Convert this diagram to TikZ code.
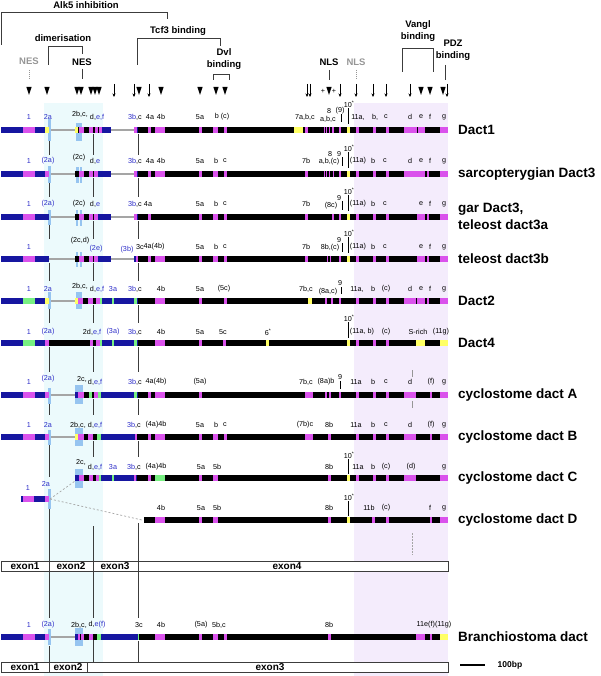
\documentclass[tikz,border=0pt]{standalone}
\usepackage{fontspec}
\setmainfont{Liberation Sans}
\usepackage{xcolor}
\usetikzlibrary{arrows.meta}

\definecolor{exblue}{RGB}{22,22,160}
\definecolor{exmag}{RGB}{218,82,236}
\definecolor{exyel}{RGB}{255,255,100}
\definecolor{exgrn}{RGB}{120,240,130}
\definecolor{hiblue}{RGB}{150,196,240}
\definecolor{cyanbg}{RGB}{236,250,252}
\definecolor{lavbg}{RGB}{244,236,252}
\definecolor{labblue}{RGB}{45,45,200}
\definecolor{intron}{RGB}{165,165,165}
\definecolor{guide}{RGB}{60,60,60}
\definecolor{faded}{RGB}{150,150,150}

\tikzset{
  lbl/.style={inner sep=0pt, font=\fontsize{7.2}{8}\selectfont},
  head/.style={inner sep=0pt, align=center, font=\fontsize{9.5}{12}\selectfont\bfseries},
  rowname/.style={inner sep=0pt, anchor=west, font=\fontsize{13.5}{15}\selectfont\bfseries},
  exonlbl/.style={inner sep=0pt, font=\fontsize{10}{11}\selectfont\bfseries},
  guideline/.style={guide, line width=0.6pt},
  bracket/.style={guide, line width=0.8pt},
  tick/.style={black, line width=0.5pt},
  exbox/.style={draw=guide, line width=0.7pt},
}

\newcommand{\bl}[1]{\textcolor{labblue}{#1}}
\newcommand{\exrow}[2]{\foreach \xa/\xb/\fc in {#2} {\fill[\fc] (\xa,#1-3.3) rectangle (\xb,#1+3.3);}}
\newcommand{\gapline}[3]{\fill[intron] (#2,#1-1) rectangle (#3,#1+1);}
\newcommand{\hilite}[4]{\fill[hiblue] (#1,#2) rectangle (#3,#4);}
\newcommand{\labrow}[3]{\foreach \x/\txt [count=\k] in {#3} {\node[lbl] (#1-\k) at (\x,#2) {\txt};}}

\begin{document}
\begin{tikzpicture}[x=1pt,y=-1pt]
\useasboundingbox (0,0) rectangle (600,676);

% shaded exon regions
\fill[cyanbg] (44,103) rectangle (103,676);
\fill[lavbg] (354,103) rectangle (448,676);

% exon boundary guides
\foreach \ya/\yb in {134/155, 178/197, 221/239, 263/281, 305/323, 347/372, 399/415, 441/457}
  \foreach \gx in {49,93,138} \draw[guideline] (\gx,\ya) -- (\gx,\yb);
\foreach \ya/\yb in {441/477, 508/561, 571/618, 646/662} \draw[guideline] (49,\ya) -- (49,\yb);
\foreach \ya/\yb in {526/561, 571/618, 640/662} \draw[guideline] (93,\ya) -- (93,\yb);
\foreach \ya/\yb in {523/561, 571/618, 641/662} \draw[guideline] (138,\ya) -- (138,\yb);

% functional domains
\node[head] (alk) at (86,5) {Alk5 inhibition};
\draw[bracket] (1,45) |- (167,12) -- (167,19);
\node[head] (tcf) at (178,31) {Tcf3 binding};
\draw[bracket] (137,65) |- (220,38) -- (220,46);
\node[head] (dimer) at (63,38) {dimerisation};
\draw[bracket] (48,65) |- (82,46) -- (82,54);
\node[head] (nes) at (82,62) {NES};
\draw[bracket] (nes.south) ++(0,3) -- (82,79);
\node[head, text=faded] (nesg) at (29,61) {NES};
\draw[faded, line width=0.8pt, dash pattern=on 1pt off 1pt] (29,70) -- (29,80);
\node[head] (dvl) at (224,59) {Dvl\\binding};
\draw[bracket] (213,80) |- (229,74) -- (229,80);
\node[head] (nls) at (329,62) {NLS};
\draw[bracket] (329,70) -- (329,80);
\node[head, text=faded] (nlsg) at (356,62) {NLS};
\draw[faded, line width=0.8pt, dash pattern=on 1pt off 1pt] (356,70) -- (356,80);
\node[head] (vangl) at (418,31) {Vangl\\binding};
\draw[bracket] (402,72) |- (433,48) -- (433,72);
\node[head] (pdz) at (453,50) {PDZ\\binding};
\draw[bracket] (445,65) -- (445,80);

% intron positions
\foreach \mx in {29,47,77,81,91,95,99,139,161,200,216,225,329,421,430,443}
  \fill (\mx-2.6,87) -- (\mx+2.6,87) -- (\mx,95) -- cycle;
\foreach \mx in {114,134,149,307,310,340,356,373,386,410,447}
  \draw[-{Stealth[length=3.5pt,width=3pt]}, line width=0.5pt] (\mx,84) -- (\mx,97);
\node[lbl] (plusa) at (323,91) {+};
\node[lbl] (plusb) at (334,91) {+};

% Dact1
\gapline{130}{49}{75} \gapline{130}{111}{134}
\hilite{47.5}{119}{50.5}{141} \hilite{75.5}{123}{82}{141}
\exrow{130}{1/23/exblue, 23/35/exmag, 35/45/exblue, 45/49/exyel, 75/78/exyel, 78/79/black, 79/84/exmag, 84/89/black, 89/93/exmag, 93/94.5/black, 94.5/102/exmag, 98/99/black, 102/111/exblue, 134/448/black, 134/136.5/exmag, 136.5/137.5/exblue, 148/151/exmag, 155/165/exmag, 199/201.5/exmag, 213/218/exmag, 224/227/exmag, 294/303/exyel, 304.5/308/exmag, 323.5/324.5/exmag, 326/327/exmag, 328.5/329.5/exmag, 332/334/exmag, 339/341/exmag, 347/350/exyel, 356/359/exmag, 373/375.5/exmag, 386/388.5/exmag, 404/425/exmag, 416.5/417.5/black, 440/448/exmag}
\labrow{r1}{117}{29/\bl{1}, 48/\bl{2a}, 97/{d,\bl{e,f}}, 135/{\bl{3b},c}, 150/4a, 161/4b, 200/5a, 222/{b (c)}, 305/{7a,b,c}, 358/{11a,}, 375/{b,}, 386/c, 410/d, 421/e, 430/f, 444/g}
\node[lbl] (r1-2bc) at (80,114) {2b,c,};
\labrow{r1u}{111}{329/8, 340/(9)}
\node[lbl] (r1-abc) at (328,119) {a,b,c};
\draw[tick] (341,114) -- (341,122);
\node[lbl] (r1-ten) at (349,104) {10\textsuperscript{*}};
\draw[tick] (348,108) -- (348,124);
\node[rowname] (n1) at (458,130) {Dact1};

% sarcopterygian Dact3
\gapline{174}{49}{75} \gapline{174}{111}{134}
\hilite{47.5}{166}{50.5}{183} \hilite{75.5}{167}{78.5}{183} \hilite{79.5}{167}{82}{183}
\exrow{174}{1/23/exblue, 23/35/exmag, 35/45/exblue, 45/49/exmag, 75/79/black, 79/84/exmag, 84/89/black, 89/93/exmag, 93/94/black, 94/98/exmag, 98/111/exblue, 134/448/black, 134/136.5/exmag, 136.5/137.5/exblue, 148/151/exmag, 155/165/exmag, 199/201.5/exmag, 213/218/exmag, 224/227/exmag, 305/307.5/exmag, 323.5/324.5/exmag, 326/327/exmag, 328.5/329.5/exmag, 333/334/exmag, 339/341/exmag, 347/350/exyel, 356/359/exmag, 373/375.5/exmag, 386/388.5/exmag, 404/425/exmag, 427/428.5/exmag, 440/448/exmag}
\labrow{r2}{161}{29/\bl{1}, 48/\bl{(2a)}, 95/{d,\bl{e}}, 135/{\bl{3b},c}, 150/4a, 161/4b, 200/5a, 216/b, 225/c, 306/7b, 358/(11a), 373/b, 385/c, 410/d, 421/e, 430/f, 444/g}
\node[lbl] (r2-2c) at (79,158) {(2c)};
\labrow{r2u}{154}{330/8, 339/9}
\node[lbl] (r2-abc) at (329,162) {a,b,(c)};
\draw[tick] (342,157) -- (342,166);
\node[lbl] (r2-ten) at (349,148) {10\textsuperscript{*}};
\draw[tick] (348,152) -- (348,168);
\node[rowname] (n2) at (458,174) {sarcopterygian Dact3};

% gar Dact3, teleost dact3a
\gapline{217}{49}{75} \gapline{217}{111}{134}
\hilite{47.5}{210}{50.5}{225} \hilite{75.5}{210}{78}{226} \hilite{80}{210}{82}{226}
\exrow{217}{1/23/exblue, 23/35/exmag, 35/49/exblue, 75/79/black, 79/84/exmag, 84/89/black, 89/93/exmag, 93/94/black, 94/98/exmag, 98/111/exblue, 134/448/black, 134/136.5/exmag, 136.5/137.5/exblue, 148/151/exmag, 199/201.5/exmag, 213/218/exmag, 224/227/exmag, 305/307.5/exmag, 332/334/exmag, 339/341/exmag, 347/350/exyel, 356/359/exmag, 373/375.5/exmag, 386/388.5/exmag, 417/425/exmag, 427/428.5/exmag, 440/448/exmag}
\labrow{r3}{204}{29/\bl{1}, 48/\bl{(2a)}, 79/(2c), 95/{d,\bl{e}}, 135/{\bl{3b},c}, 148/4a, 200/5a, 216/b, 225/c, 306/7b, 358/(11a), 373/b, 385/c, 421/e, 430/f, 444/g}
\node[lbl] (r3-nine) at (339,198) {9};
\node[lbl] (r3-8c) at (331,206) {(8c)};
\draw[tick] (342,201) -- (342,210);
\node[lbl] (r3-ten) at (349,191) {10\textsuperscript{*}};
\draw[tick] (348,195) -- (348,211);
\node[rowname] (n3a) at (458,209) {gar Dact3,};
\node[rowname] (n3b) at (458,225) {teleost dact3a};

% teleost dact3b
\gapline{259}{49}{75} \gapline{259}{111}{134}
\hilite{76}{252}{78}{267} \hilite{80}{252}{82}{267}
\exrow{259}{1/23/exblue, 23/35/exmag, 35/49/exblue, 75/79/black, 79/84/exmag, 84/89/black, 89/93/exmag, 93/94/black, 94/98/exmag, 98/111/exblue, 134/448/black, 134/136/exblue, 136/137.5/exmag, 148/151/exmag, 155/165/exmag, 199/201.5/exmag, 213/218/exmag, 224/227/exmag, 305/307.5/exmag, 327/328/exmag, 329.5/330.5/exmag, 339/341/exmag, 347/350/exyel, 356/359/exmag, 373/375.5/exmag, 386/388.5/exmag, 417/425/exmag, 427/428.5/exmag, 440/448/exmag}
\labrow{r4}{247}{29/\bl{1}, 140/3c, 154/4a(4b), 200/5a, 216/b, 225/c, 306/7b, 358/(11a), 373/b, 385/c, 421/e, 430/f, 444/g}
\node[lbl] (r4-2cd) at (80,241) {(2c,d)};
\node[lbl] (r4-2e) at (96,249) {\bl{(2e)}};
\node[lbl] (r4-3b) at (127,250) {\bl{(3b)}};
\node[lbl] (r4-nine) at (339,240) {9};
\node[lbl] (r4-8bc) at (330,248) {8b,(c)};
\draw[tick] (342,243) -- (342,252);
\node[lbl] (r4-ten) at (349,233) {10\textsuperscript{*}};
\draw[tick] (348,237) -- (348,253);
\node[rowname] (n4) at (458,259) {teleost dact3b};

% Dact2
\gapline{301}{49}{75}
\hilite{47.5}{292}{50.5}{309} \hilite{75.5}{292}{82}{309}
\exrow{301}{1/23/exblue, 23/35/exgrn, 35/45/exblue, 45/49/exyel, 75/78/exyel, 78/83/exmag, 83/88/black, 88/93/exmag, 93/96/black, 96/100/exmag, 100/101.5/exgrn, 101.5/112/exblue, 112/113.5/exgrn, 113.5/133.5/exblue, 133.5/136.5/exgrn, 136.5/138/exblue, 138/448/black, 155/165/exmag, 199/201.5/exmag, 224/227/exmag, 308/312/exyel, 325/327/exmag, 331/333/exmag, 339/341/exmag, 356/359/exmag, 373/375.5/exmag, 386/388.5/exmag, 404/416/exmag, 417/425/exmag, 427/428.5/exmag, 440/448/exmag}
\labrow{r5}{289}{29/\bl{1}, 48/\bl{2a}, 97/{d,\bl{e,f}}, 113/\bl{3a}, 135/{\bl{3b},c}, 161/4b, 200/5a, 224/(5c), 306/{7b,c}, 357/{11a,}, 373/b, 386/(c), 410/d, 421/e, 430/f, 444/g}
\node[lbl] (r5-2bc) at (80,286) {2b,c,};
\node[lbl] (r5-nine) at (340,283) {9};
\node[lbl] (r5-8ac) at (328,292) {(8a,c)};
\draw[tick] (341,287) -- (341,294);
\node[rowname] (n5) at (458,301) {Dact2};

% Dact4
\exrow{343}{1/23/exblue, 23/35/exgrn, 35/45/exblue, 45/49/exmag, 49/90/black, 90/93/exmag, 93/96/black, 96/100/exmag, 100/101.5/exgrn, 101.5/112/exblue, 112/113.5/exgrn, 113.5/134/exblue, 134/137/exgrn, 137/138/exblue, 138/448/black, 155/165/exmag, 199/201.5/exmag, 223/226/exmag, 266/268.5/exyel, 347/350/exyel, 356/359/exmag, 373/375.5/exmag, 386/388.5/exmag, 416/425/exyel, 440/448/exyel}
\labrow{r6}{332}{29/\bl{1}, 48/\bl{(2a)}, 92/{2d,\bl{e,f}}, 113/\bl{(3a)}, 135/{\bl{3b},c}, 161/4b, 200/5a, 223/5c, 268/6\textsuperscript{*}, 362/{(11a, b)}, 386/(c), 418/S-rich, 441/(11g)}
\node[lbl] (r6-ten) at (349,318) {10\textsuperscript{*}};
\draw[tick] (348,322) -- (348,338);
\node[rowname] (n6) at (458,343) {Dact4};

% cyclostome dact A
\gapline{395}{49}{75}
\hilite{47.5}{388}{50.5}{404} \hilite{75}{385}{82.5}{404}
\exrow{395}{1/23/exblue, 23/35/exmag, 35/45/exblue, 45/49/exmag, 75/78/exblue, 78/84/exmag, 84/89/black, 89/92/exgrn, 92/94/black, 94/98/exmag, 98/101/exgrn, 101/133.5/exblue, 133.5/136.5/exgrn, 136.5/137.5/exblue, 137.5/448/black, 148/151/exmag, 155/165/exmag, 199/201.5/exmag, 305/313/exmag, 325/327/exmag, 329/331/exmag, 339/341/exmag, 356/359/exmag, 373/375.5/exmag, 386/388.5/exmag, 404/416/exmag, 430/432/exmag, 440/448/exmag}
\labrow{r7}{382}{29/\bl{1}, 95/{d,\bl{e,f}}, 135/{\bl{3b},c}, 156/4a(4b), 200/(5a), 306/{7b,c}, 326/(8a)b, 356/11a, 373/b, 386/c, 410/d, 431/(f), 444/g}
\node[lbl] (r7-2a) at (48,379) {\bl{(2a)}};
\node[lbl] (r7-2c) at (82,379) {2c,};
\node[lbl] (r7-nine) at (340,377) {9};
\draw[tick] (340,381) -- (340,389);
\draw[tick, faded] (412,370) -- (412,377);
\draw[tick, faded] (412,401) -- (412,408);
\node[rowname] (n7) at (458,395) {cyclostome dact A};

% cyclostome dact B
\gapline{437}{49}{75}
\hilite{47.5}{430}{50.5}{445} \hilite{75}{428}{82.5}{446}
\exrow{437}{1/23/exblue, 23/35/exmag, 35/45/exblue, 45/49/exmag, 75/78/exyel, 78/84/exmag, 84/88/black, 88/93/exmag, 93/97/black, 97/101/exgrn, 101/134.5/exblue, 134.5/136.5/exmag, 136.5/448/black, 148/151/exmag, 155/165/exmag, 199/201.5/exmag, 213/218/exmag, 224/227/exmag, 305/313/exmag, 328/330.5/exmag, 356/359/exmag, 373/375.5/exmag, 386/388.5/exmag, 404/416/exmag, 430/432/exmag, 440/448/exmag}
\labrow{r8}{425}{29/\bl{1}, 48/\bl{2a}, 78/{2b,c,}, 95/{d,\bl{e,f}}, 134/{\bl{3b},c}, 156/(4a)4b, 200/5a, 216/b, 225/c, 305/(7b)c, 329/8b, 356/11a, 373/b, 386/c, 410/d, 431/(f), 444/g}
\node[rowname] (n8) at (458,437) {cyclostome dact B};

% cyclostome dact C
\hilite{75}{469}{83}{488}
\exrow{478}{75/79/exblue, 79/84/exmag, 84/89/black, 89/93/exmag, 93/96/black, 96/99/exmag, 99/101/exgrn, 101/112/exblue, 112/113.5/exgrn, 113.5/134/exblue, 134/135.5/exmag, 135.5/137/exblue, 137/448/black, 148/151/exmag, 155/165/exgrn, 199/201.5/exmag, 213/218/exmag, 328/330.5/exmag, 347/349.5/exyel, 356/358.5/exmag, 373/375.5/exmag, 386/388.5/exmag, 404/416/exmag, 440/448/exmag}
\labrow{r9}{467}{95/{d,\bl{e,f}}, 113/\bl{3a}, 134/{\bl{3b},c}, 156/(4a)4b, 201/5a, 217/5b, 329/8b, 358/11a, 373/b, 386/(c), 411/(d), 444/g}
\node[lbl] (r9-2c) at (81,462) {2c,};
\node[lbl] (r9-ten) at (349,455) {10\textsuperscript{*}};
\draw[tick] (348,459) -- (348,474);
\node[rowname] (n9) at (458,478) {cyclostome dact C};

% shared start of C and D
\hilite{47.5}{489}{50.5}{509}
\exrow{499}{21/23/exblue, 23/34/exmag, 34/45/exblue, 45/49/exmag}
\node[lbl] (rs-1) at (28,488) {\bl{1}};
\node[lbl] (rs-2a) at (46,484) {\bl{2a}};
\coordinate (cdsplit) at (50,499);
\coordinate (cstart) at (75,481);
\coordinate (dstart) at (142,520);
\draw[intron, line width=0.7pt, dash pattern=on 2pt off 2pt] (cdsplit) -- (cstart);
\draw[intron, line width=0.7pt, dash pattern=on 2pt off 2pt] (cdsplit) -- (dstart);

% cyclostome dact D
\exrow{520}{144/448/black, 155/165/exmag, 199/201.5/exmag, 213/218/exmag, 328/330.5/exmag, 347/349.5/exyel, 372/374.5/exmag, 386/388.5/exmag, 430/432/exmag, 440/448/exmag}
\labrow{r10}{508}{161/4b, 201/5a, 217/5b, 329/8b, 369/11b, 386/(c), 430/f, 444/g}
\node[lbl] (r10-ten) at (349,497) {10\textsuperscript{*}};
\draw[tick] (348,501) -- (348,516);
\node[rowname] (n10) at (458,520) {cyclostome dact D};
\draw[intron, line width=1pt, dash pattern=on 1.5pt off 1.5pt] (412,533) -- (412,555);

% vertebrate exons
\draw[exbox, fill=white] (1,561) rectangle (448,571);
\foreach \gx in {49,93,138} \draw[exbox] (\gx,561) -- (\gx,571);
\node[exonlbl] (va) at (25,566) {exon1};
\node[exonlbl] (vb) at (71,566) {exon2};
\node[exonlbl] (vc) at (115,566) {exon3};
\node[exonlbl] (vd) at (287,566) {exon4};

% Branchiostoma dact
\gapline{637}{49}{75}
\hilite{47.5}{629}{50.5}{645} \hilite{75}{628}{82.5}{646}
\exrow{637}{1/23/exblue, 23/35/exmag, 35/45/exblue, 45/49/exmag, 75/78/exblue, 78/84/exmag, 79.5/80.5/black, 84/89/black, 89/93/exmag, 93/97/black, 97/101/exgrn, 101/137.5/exblue, 137.5/139/exgrn, 139/448/black, 155/165/exmag, 199/201.5/exmag, 213/218/exmag, 224/226.5/exmag, 328/330.5/exmag, 416/425/exmag, 430/432/exmag, 440/448/exyel}
\labrow{r11}{625}{29/\bl{1}, 48/\bl{(2a)}, 79/{2b,c,}, 97/{d,\bl{e(f)}}, 139/3c, 161/4b, 201/(5a), 219/{5b,c}, 329/8b, 434/11e(f)(11g)}
\node[rowname] (n11) at (458,637) {Branchiostoma dact};

% amphioxus exons
\draw[exbox, fill=white] (1,662) rectangle (448,672);
\foreach \gx in {49,87} \draw[exbox] (\gx,662) -- (\gx,672);
\node[exonlbl] (ba) at (25,667) {exon1};
\node[exonlbl] (bb) at (68,667) {exon2};
\node[exonlbl] (bc) at (270,667) {exon3};

% scale
\coordinate (sbl) at (460,665);
\coordinate (sbr) at (485,665);
\draw[line width=2.5pt] (sbl) -- (sbr);
\node[exonlbl, font=\fontsize{8.5}{10}\selectfont\bfseries] (sbt) at (510,665) {100bp};
\end{tikzpicture}
\end{document}
